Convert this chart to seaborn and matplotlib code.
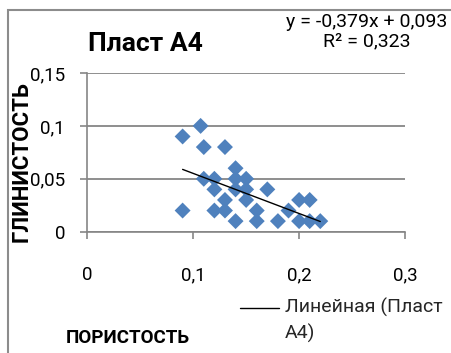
import numpy as np
import pandas as pd
import matplotlib
matplotlib.use("Agg")
import matplotlib.pyplot as plt
from matplotlib.patches import Rectangle
import seaborn as sns

# ---- data ----
porosity = [0.09, 0.107, 0.11, 0.13, 0.09, 0.11, 0.12, 0.12, 0.13, 0.12,
            0.13, 0.14, 0.14, 0.14, 0.15, 0.15, 0.15, 0.14, 0.16, 0.16,
            0.17, 0.18, 0.19, 0.20, 0.21, 0.20, 0.21, 0.22]
clay = [0.09, 0.10, 0.08, 0.08, 0.02, 0.05, 0.05, 0.04, 0.03, 0.02,
        0.02, 0.06, 0.05, 0.04, 0.05, 0.04, 0.03, 0.01, 0.02, 0.01,
        0.04, 0.01, 0.02, 0.03, 0.03, 0.01, 0.01, 0.01]
slope = -0.379
intercept = 0.093
r2 = 0.323
x_ticks = [0, 0.1, 0.2, 0.3]
y_ticks = [0, 0.05, 0.1, 0.15]
title = "Пласт А4"
x_label = "ПОРИСТОСТЬ"
y_label = "ГЛИНИСТОСТЬ"
legend_label = "Линейная (Пласт\nА4)"

def fmt(v):
    return ("%g" % v).replace(".", ",")

df = pd.DataFrame({"x": porosity, "y": clay})

sns.set_theme(style="white")
plt.rcParams["font.family"] = ["Roboto", "DejaVu Sans"]

W, H = 452, 353
fig = plt.figure(figsize=(W / 100, H / 100), dpi=100)
fig.patch.set_facecolor("white")

ax_l, ax_r = 87.3, 405.0
ax_t, ax_b = 73.0, 231.7
ax = fig.add_axes([ax_l / W, 1 - ax_b / H, (ax_r - ax_l) / W, (ax_b - ax_t) / H])
ax.set_facecolor("white")

gray = "#868686"
sns.scatterplot(data=df, x="x", y="y", marker="D", s=66, color="#4F81BD",
                edgecolor="none", linewidth=0, ax=ax, zorder=3)

xs = np.array([min(porosity), max(porosity)])
trend, = ax.plot(xs, slope * xs + intercept, color="black", lw=1.0, zorder=4)

ax.set_xlim(0, 0.3)
ax.set_ylim(0, 0.15)
ax.set_xticks(x_ticks)
ax.set_yticks(y_ticks)
ax.set_xticklabels([fmt(v) for v in x_ticks])
ax.set_yticklabels([fmt(v) for v in y_ticks])
ax.yaxis.grid(True, color=gray, lw=1.3)
ax.xaxis.grid(False)
ax.set_axisbelow(True)
for side in ["top", "right"]:
    ax.spines[side].set_visible(False)
for side in ["left", "bottom"]:
    ax.spines[side].set_color(gray)
    ax.spines[side].set_linewidth(1.2)
ax.tick_params(axis="y", direction="out", length=5, width=1.2, color=gray,
               pad=11, labelsize=13.5, labelcolor="black", left=True)
ax.tick_params(axis="x", direction="out", length=5, width=1.2, color=gray,
               pad=20, labelsize=13.5, labelcolor="black", bottom=True)

ax.set_xlabel(x_label, fontsize=13.5, fontweight="bold", color="black")
ax.xaxis.set_label_coords((128 - ax_l) / (ax_r - ax_l), (ax_b - 338) / (ax_b - ax_t))
ax.xaxis.label.set_va("center")
ax.set_ylabel(y_label, fontsize=16, fontweight="bold", color="black")
ax.yaxis.set_label_coords((22 - ax_l) / (ax_r - ax_l), (ax_b - 162) / (ax_b - ax_t))
ax.yaxis.label.set_va("center")

fig.text(88 / W, 1 - 44 / H, title, fontsize=19, fontweight="bold",
         ha="left", va="center", color="black")
fig.text(367 / W, 1 - 32 / H,
         "y = %sx + %s" % (fmt(slope), fmt(intercept)) + "\n" + "R² = %s" % fmt(r2),
         fontsize=14, ha="center", va="center", color="black", linespacing=1.1)

leg = ax.legend([trend], [legend_label], frameon=False, fontsize=14,
                loc="upper left", bbox_to_anchor=(240 / W, 1 - 289 / H),
                bbox_transform=fig.transFigure, handlelength=2.0,
                handletextpad=0.3, handleheight=4.9, borderpad=0, borderaxespad=0)
for t in leg.get_texts():
    t.set_linespacing(1.45)

fig.patches.append(Rectangle((7.5 / W, -0.1), 2, 1 - 10 / H + 0.1, fill=False,
                             edgecolor="#8c8c8c", lw=1.5, transform=fig.transFigure,
                             figure=fig))

fig.savefig("out.png", dpi=100, facecolor="white")
